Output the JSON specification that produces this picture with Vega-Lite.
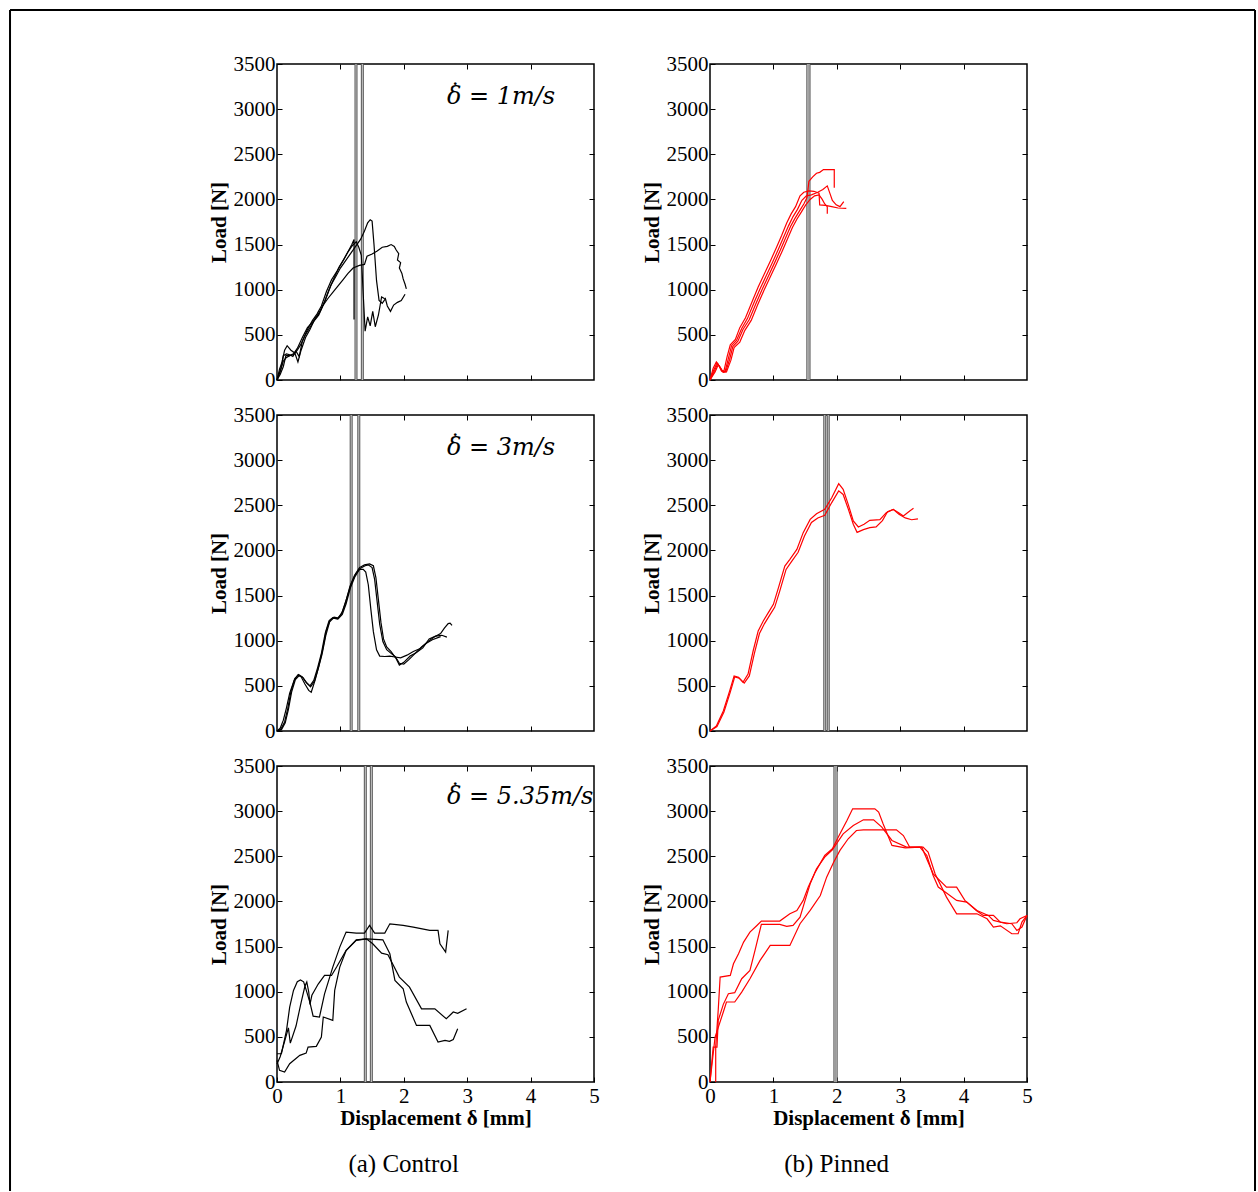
{
"$schema": "https://vega.github.io/schema/vega-lite/v6.json",
"padding": {"left": 8, "top": 8, "right": 2, "bottom": 0},
"background": "white",
"datasets": {
"curves": [
{"p":1,"c":"a","i":0,"x":0,"y":0},{"p":1,"c":"a","i":1,"x":0.04,"y":120},{"p":1,"c":"a","i":2,"x":0.08,"y":200},{"p":1,"c":"a","i":3,"x":0.12,"y":330},{"p":1,"c":"a","i":4,"x":0.16,"y":380},{"p":1,"c":"a","i":5,"x":0.22,"y":330},{"p":1,"c":"a","i":6,"x":0.28,"y":300},{"p":1,"c":"a","i":7,"x":0.33,"y":200},{"p":1,"c":"a","i":8,"x":0.38,"y":330},{"p":1,"c":"a","i":9,"x":0.45,"y":470},{"p":1,"c":"a","i":10,"x":0.52,"y":560},{"p":1,"c":"a","i":11,"x":0.6,"y":680},{"p":1,"c":"a","i":12,"x":0.68,"y":760},{"p":1,"c":"a","i":13,"x":0.76,"y":880},{"p":1,"c":"a","i":14,"x":0.85,"y":1050},{"p":1,"c":"a","i":15,"x":0.93,"y":1150},{"p":1,"c":"a","i":16,"x":1.0,"y":1240},{"p":1,"c":"a","i":17,"x":1.08,"y":1320},{"p":1,"c":"a","i":18,"x":1.16,"y":1400},{"p":1,"c":"a","i":19,"x":1.24,"y":1480},{"p":1,"c":"a","i":20,"x":1.32,"y":1560},{"p":1,"c":"a","i":21,"x":1.38,"y":1650},{"p":1,"c":"a","i":22,"x":1.43,"y":1740},{"p":1,"c":"a","i":23,"x":1.47,"y":1775},{"p":1,"c":"a","i":24,"x":1.5,"y":1760},{"p":1,"c":"a","i":25,"x":1.53,"y":1500},{"p":1,"c":"a","i":26,"x":1.57,"y":1100},{"p":1,"c":"a","i":27,"x":1.61,"y":880},{"p":1,"c":"a","i":28,"x":1.66,"y":850},{"p":1,"c":"a","i":29,"x":1.71,"y":900},{"p":1,"c":"a","i":30,"x":1.74,"y":820},{"p":1,"c":"a","i":31,"x":1.79,"y":760},{"p":1,"c":"a","i":32,"x":1.84,"y":830},{"p":1,"c":"a","i":33,"x":1.9,"y":860},{"p":1,"c":"a","i":34,"x":1.96,"y":880},{"p":1,"c":"a","i":35,"x":2.02,"y":950},
{"p":1,"c":"b","i":0,"x":0,"y":0},{"p":1,"c":"b","i":1,"x":0.03,"y":60},{"p":1,"c":"b","i":2,"x":0.07,"y":150},{"p":1,"c":"b","i":3,"x":0.1,"y":270},{"p":1,"c":"b","i":4,"x":0.15,"y":290},{"p":1,"c":"b","i":5,"x":0.2,"y":280},{"p":1,"c":"b","i":6,"x":0.25,"y":260},{"p":1,"c":"b","i":7,"x":0.3,"y":320},{"p":1,"c":"b","i":8,"x":0.35,"y":260},{"p":1,"c":"b","i":9,"x":0.4,"y":430},{"p":1,"c":"b","i":10,"x":0.48,"y":560},{"p":1,"c":"b","i":11,"x":0.56,"y":660},{"p":1,"c":"b","i":12,"x":0.63,"y":730},{"p":1,"c":"b","i":13,"x":0.7,"y":820},{"p":1,"c":"b","i":14,"x":0.78,"y":980},{"p":1,"c":"b","i":15,"x":0.86,"y":1110},{"p":1,"c":"b","i":16,"x":0.95,"y":1210},{"p":1,"c":"b","i":17,"x":1.04,"y":1320},{"p":1,"c":"b","i":18,"x":1.12,"y":1420},{"p":1,"c":"b","i":19,"x":1.19,"y":1490},{"p":1,"c":"b","i":20,"x":1.25,"y":1530},{"p":1,"c":"b","i":21,"x":1.29,"y":1470},{"p":1,"c":"b","i":22,"x":1.33,"y":1380},{"p":1,"c":"b","i":23,"x":1.36,"y":950},{"p":1,"c":"b","i":24,"x":1.39,"y":540},{"p":1,"c":"b","i":25,"x":1.43,"y":700},{"p":1,"c":"b","i":26,"x":1.47,"y":600},{"p":1,"c":"b","i":27,"x":1.51,"y":760},{"p":1,"c":"b","i":28,"x":1.55,"y":590},{"p":1,"c":"b","i":29,"x":1.6,"y":720},{"p":1,"c":"b","i":30,"x":1.65,"y":920},{"p":1,"c":"b","i":31,"x":1.7,"y":900},
{"p":1,"c":"c","i":0,"x":0,"y":0},{"p":1,"c":"c","i":1,"x":0.05,"y":90},{"p":1,"c":"c","i":2,"x":0.1,"y":210},{"p":1,"c":"c","i":3,"x":0.15,"y":250},{"p":1,"c":"c","i":4,"x":0.2,"y":270},{"p":1,"c":"c","i":5,"x":0.26,"y":280},{"p":1,"c":"c","i":6,"x":0.32,"y":330},{"p":1,"c":"c","i":7,"x":0.38,"y":400},{"p":1,"c":"c","i":8,"x":0.44,"y":490},{"p":1,"c":"c","i":9,"x":0.5,"y":560},{"p":1,"c":"c","i":10,"x":0.58,"y":650},{"p":1,"c":"c","i":11,"x":0.66,"y":720},{"p":1,"c":"c","i":12,"x":0.74,"y":850},{"p":1,"c":"c","i":13,"x":0.82,"y":1000},{"p":1,"c":"c","i":14,"x":0.9,"y":1130},{"p":1,"c":"c","i":15,"x":0.98,"y":1250},{"p":1,"c":"c","i":16,"x":1.05,"y":1330},{"p":1,"c":"c","i":17,"x":1.12,"y":1420},{"p":1,"c":"c","i":18,"x":1.18,"y":1500},{"p":1,"c":"c","i":19,"x":1.215,"y":1555},{"p":1,"c":"c","i":20,"x":1.215,"y":670},
{"p":1,"c":"d","i":0,"x":0,"y":0},{"p":1,"c":"d","i":1,"x":0.05,"y":60},{"p":1,"c":"d","i":2,"x":0.1,"y":150},{"p":1,"c":"d","i":3,"x":0.14,"y":270},{"p":1,"c":"d","i":4,"x":0.2,"y":270},{"p":1,"c":"d","i":5,"x":0.26,"y":290},{"p":1,"c":"d","i":6,"x":0.32,"y":350},{"p":1,"c":"d","i":7,"x":0.4,"y":470},{"p":1,"c":"d","i":8,"x":0.48,"y":580},{"p":1,"c":"d","i":9,"x":0.56,"y":640},{"p":1,"c":"d","i":10,"x":0.64,"y":710},{"p":1,"c":"d","i":11,"x":0.72,"y":820},{"p":1,"c":"d","i":12,"x":0.8,"y":900},{"p":1,"c":"d","i":13,"x":0.88,"y":970},{"p":1,"c":"d","i":14,"x":0.96,"y":1040},{"p":1,"c":"d","i":15,"x":1.04,"y":1110},{"p":1,"c":"d","i":16,"x":1.12,"y":1180},{"p":1,"c":"d","i":17,"x":1.2,"y":1240},{"p":1,"c":"d","i":18,"x":1.3,"y":1270},{"p":1,"c":"d","i":19,"x":1.38,"y":1280},{"p":1,"c":"d","i":20,"x":1.42,"y":1370},{"p":1,"c":"d","i":21,"x":1.5,"y":1395},{"p":1,"c":"d","i":22,"x":1.58,"y":1430},{"p":1,"c":"d","i":23,"x":1.66,"y":1470},{"p":1,"c":"d","i":24,"x":1.74,"y":1480},{"p":1,"c":"d","i":25,"x":1.8,"y":1500},{"p":1,"c":"d","i":26,"x":1.85,"y":1480},{"p":1,"c":"d","i":27,"x":1.88,"y":1440},{"p":1,"c":"d","i":28,"x":1.92,"y":1400},{"p":1,"c":"d","i":29,"x":1.9,"y":1330},{"p":1,"c":"d","i":30,"x":1.95,"y":1300},{"p":1,"c":"d","i":31,"x":1.93,"y":1240},{"p":1,"c":"d","i":32,"x":1.97,"y":1180},{"p":1,"c":"d","i":33,"x":1.99,"y":1120},{"p":1,"c":"d","i":34,"x":2.02,"y":1060},{"p":1,"c":"d","i":35,"x":2.04,"y":1010},

{"p":2,"c":"a","i":0,"x":0,"y":0},{"p":2,"c":"a","i":1,"x":0.05,"y":130},{"p":2,"c":"a","i":2,"x":0.1,"y":200},{"p":2,"c":"a","i":3,"x":0.14,"y":160},{"p":2,"c":"a","i":4,"x":0.18,"y":100},{"p":2,"c":"a","i":5,"x":0.22,"y":100},{"p":2,"c":"a","i":6,"x":0.27,"y":260},{"p":2,"c":"a","i":7,"x":0.32,"y":390},{"p":2,"c":"a","i":8,"x":0.4,"y":450},{"p":2,"c":"a","i":9,"x":0.47,"y":580},{"p":2,"c":"a","i":10,"x":0.56,"y":690},{"p":2,"c":"a","i":11,"x":0.66,"y":860},{"p":2,"c":"a","i":12,"x":0.76,"y":1030},{"p":2,"c":"a","i":13,"x":0.86,"y":1180},{"p":2,"c":"a","i":14,"x":0.96,"y":1330},{"p":2,"c":"a","i":15,"x":1.05,"y":1470},{"p":2,"c":"a","i":16,"x":1.13,"y":1600},{"p":2,"c":"a","i":17,"x":1.21,"y":1740},{"p":2,"c":"a","i":18,"x":1.28,"y":1840},{"p":2,"c":"a","i":19,"x":1.35,"y":1920},{"p":2,"c":"a","i":20,"x":1.42,"y":2040},{"p":2,"c":"a","i":21,"x":1.48,"y":2080},{"p":2,"c":"a","i":22,"x":1.56,"y":2095},{"p":2,"c":"a","i":23,"x":1.64,"y":2090},{"p":2,"c":"a","i":24,"x":1.72,"y":2070},{"p":2,"c":"a","i":25,"x":1.73,"y":1940},{"p":2,"c":"a","i":26,"x":1.82,"y":1935},{"p":2,"c":"a","i":27,"x":1.92,"y":1920},{"p":2,"c":"a","i":28,"x":2.02,"y":1905},{"p":2,"c":"a","i":29,"x":2.15,"y":1900},
{"p":2,"c":"b","i":0,"x":0,"y":0},{"p":2,"c":"b","i":1,"x":0.06,"y":110},{"p":2,"c":"b","i":2,"x":0.11,"y":190},{"p":2,"c":"b","i":3,"x":0.15,"y":150},{"p":2,"c":"b","i":4,"x":0.19,"y":95},{"p":2,"c":"b","i":5,"x":0.24,"y":100},{"p":2,"c":"b","i":6,"x":0.29,"y":240},{"p":2,"c":"b","i":7,"x":0.34,"y":380},{"p":2,"c":"b","i":8,"x":0.42,"y":440},{"p":2,"c":"b","i":9,"x":0.5,"y":570},{"p":2,"c":"b","i":10,"x":0.59,"y":680},{"p":2,"c":"b","i":11,"x":0.69,"y":850},{"p":2,"c":"b","i":12,"x":0.79,"y":1010},{"p":2,"c":"b","i":13,"x":0.89,"y":1160},{"p":2,"c":"b","i":14,"x":0.99,"y":1310},{"p":2,"c":"b","i":15,"x":1.08,"y":1450},{"p":2,"c":"b","i":16,"x":1.16,"y":1580},{"p":2,"c":"b","i":17,"x":1.24,"y":1710},{"p":2,"c":"b","i":18,"x":1.31,"y":1810},{"p":2,"c":"b","i":19,"x":1.38,"y":1890},{"p":2,"c":"b","i":20,"x":1.45,"y":1990},{"p":2,"c":"b","i":21,"x":1.52,"y":2040},{"p":2,"c":"b","i":22,"x":1.6,"y":2050},{"p":2,"c":"b","i":23,"x":1.7,"y":2080},{"p":2,"c":"b","i":24,"x":1.78,"y":2110},{"p":2,"c":"b","i":25,"x":1.85,"y":2150},{"p":2,"c":"b","i":26,"x":1.89,"y":2070},{"p":2,"c":"b","i":27,"x":1.93,"y":1990},{"p":2,"c":"b","i":28,"x":1.99,"y":1940},{"p":2,"c":"b","i":29,"x":2.05,"y":1920},{"p":2,"c":"b","i":30,"x":2.11,"y":1975},
{"p":2,"c":"c","i":0,"x":0,"y":0},{"p":2,"c":"c","i":1,"x":0.07,"y":100},{"p":2,"c":"c","i":2,"x":0.12,"y":180},{"p":2,"c":"c","i":3,"x":0.16,"y":140},{"p":2,"c":"c","i":4,"x":0.2,"y":90},{"p":2,"c":"c","i":5,"x":0.25,"y":95},{"p":2,"c":"c","i":6,"x":0.31,"y":230},{"p":2,"c":"c","i":7,"x":0.36,"y":370},{"p":2,"c":"c","i":8,"x":0.44,"y":430},{"p":2,"c":"c","i":9,"x":0.52,"y":560},{"p":2,"c":"c","i":10,"x":0.62,"y":670},{"p":2,"c":"c","i":11,"x":0.72,"y":840},{"p":2,"c":"c","i":12,"x":0.82,"y":1000},{"p":2,"c":"c","i":13,"x":0.92,"y":1150},{"p":2,"c":"c","i":14,"x":1.02,"y":1300},{"p":2,"c":"c","i":15,"x":1.11,"y":1440},{"p":2,"c":"c","i":16,"x":1.19,"y":1570},{"p":2,"c":"c","i":17,"x":1.27,"y":1700},{"p":2,"c":"c","i":18,"x":1.34,"y":1790},{"p":2,"c":"c","i":19,"x":1.41,"y":1870},{"p":2,"c":"c","i":20,"x":1.48,"y":1950},{"p":2,"c":"c","i":21,"x":1.53,"y":2020},{"p":2,"c":"c","i":22,"x":1.56,"y":2200},{"p":2,"c":"c","i":23,"x":1.62,"y":2250},{"p":2,"c":"c","i":24,"x":1.68,"y":2290},{"p":2,"c":"c","i":25,"x":1.73,"y":2300},{"p":2,"c":"c","i":26,"x":1.79,"y":2330},{"p":2,"c":"c","i":27,"x":1.96,"y":2330},{"p":2,"c":"c","i":28,"x":1.96,"y":2130},
{"p":2,"c":"d","i":0,"x":0,"y":0},{"p":2,"c":"d","i":1,"x":0.08,"y":90},{"p":2,"c":"d","i":2,"x":0.13,"y":170},{"p":2,"c":"d","i":3,"x":0.17,"y":130},{"p":2,"c":"d","i":4,"x":0.21,"y":85},{"p":2,"c":"d","i":5,"x":0.26,"y":90},{"p":2,"c":"d","i":6,"x":0.33,"y":220},{"p":2,"c":"d","i":7,"x":0.38,"y":360},{"p":2,"c":"d","i":8,"x":0.47,"y":420},{"p":2,"c":"d","i":9,"x":0.55,"y":550},{"p":2,"c":"d","i":10,"x":0.65,"y":660},{"p":2,"c":"d","i":11,"x":0.75,"y":830},{"p":2,"c":"d","i":12,"x":0.85,"y":990},{"p":2,"c":"d","i":13,"x":0.95,"y":1140},{"p":2,"c":"d","i":14,"x":1.05,"y":1290},{"p":2,"c":"d","i":15,"x":1.14,"y":1430},{"p":2,"c":"d","i":16,"x":1.22,"y":1560},{"p":2,"c":"d","i":17,"x":1.3,"y":1690},{"p":2,"c":"d","i":18,"x":1.37,"y":1780},{"p":2,"c":"d","i":19,"x":1.44,"y":1860},{"p":2,"c":"d","i":20,"x":1.51,"y":1940},{"p":2,"c":"d","i":21,"x":1.58,"y":2000},{"p":2,"c":"d","i":22,"x":1.65,"y":2040},{"p":2,"c":"d","i":23,"x":1.72,"y":2050},{"p":2,"c":"d","i":24,"x":1.77,"y":2000},{"p":2,"c":"d","i":25,"x":1.81,"y":1950},{"p":2,"c":"d","i":26,"x":1.85,"y":1920},{"p":2,"c":"d","i":27,"x":1.85,"y":1840},

{"p":3,"c":"a","i":0,"x":0,"y":0},{"p":3,"c":"a","i":1,"x":0.05,"y":30},{"p":3,"c":"a","i":2,"x":0.1,"y":120},{"p":3,"c":"a","i":3,"x":0.15,"y":260},{"p":3,"c":"a","i":4,"x":0.2,"y":420},{"p":3,"c":"a","i":5,"x":0.27,"y":560},{"p":3,"c":"a","i":6,"x":0.33,"y":620},{"p":3,"c":"a","i":7,"x":0.38,"y":600},{"p":3,"c":"a","i":8,"x":0.44,"y":520},{"p":3,"c":"a","i":9,"x":0.5,"y":450},{"p":3,"c":"a","i":10,"x":0.54,"y":430},{"p":3,"c":"a","i":11,"x":0.6,"y":560},{"p":3,"c":"a","i":12,"x":0.66,"y":720},{"p":3,"c":"a","i":13,"x":0.72,"y":900},{"p":3,"c":"a","i":14,"x":0.78,"y":1120},{"p":3,"c":"a","i":15,"x":0.84,"y":1230},{"p":3,"c":"a","i":16,"x":0.9,"y":1260},{"p":3,"c":"a","i":17,"x":0.97,"y":1250},{"p":3,"c":"a","i":18,"x":1.03,"y":1320},{"p":3,"c":"a","i":19,"x":1.1,"y":1470},{"p":3,"c":"a","i":20,"x":1.17,"y":1630},{"p":3,"c":"a","i":21,"x":1.24,"y":1740},{"p":3,"c":"a","i":22,"x":1.3,"y":1790},{"p":3,"c":"a","i":23,"x":1.36,"y":1790},{"p":3,"c":"a","i":24,"x":1.4,"y":1760},{"p":3,"c":"a","i":25,"x":1.44,"y":1620},{"p":3,"c":"a","i":26,"x":1.48,"y":1350},{"p":3,"c":"a","i":27,"x":1.52,"y":1100},{"p":3,"c":"a","i":28,"x":1.57,"y":900},{"p":3,"c":"a","i":29,"x":1.62,"y":830},{"p":3,"c":"a","i":30,"x":1.7,"y":825},{"p":3,"c":"a","i":31,"x":1.78,"y":830},{"p":3,"c":"a","i":32,"x":1.86,"y":820},{"p":3,"c":"a","i":33,"x":1.95,"y":810},{"p":3,"c":"a","i":34,"x":2.05,"y":840},{"p":3,"c":"a","i":35,"x":2.15,"y":880},{"p":3,"c":"a","i":36,"x":2.25,"y":910},{"p":3,"c":"a","i":37,"x":2.35,"y":970},{"p":3,"c":"a","i":38,"x":2.45,"y":1010},{"p":3,"c":"a","i":39,"x":2.58,"y":1045},
{"p":3,"c":"b","i":0,"x":0,"y":0},{"p":3,"c":"b","i":1,"x":0.06,"y":20},{"p":3,"c":"b","i":2,"x":0.12,"y":100},{"p":3,"c":"b","i":3,"x":0.17,"y":250},{"p":3,"c":"b","i":4,"x":0.22,"y":440},{"p":3,"c":"b","i":5,"x":0.28,"y":580},{"p":3,"c":"b","i":6,"x":0.34,"y":625},{"p":3,"c":"b","i":7,"x":0.4,"y":600},{"p":3,"c":"b","i":8,"x":0.46,"y":540},{"p":3,"c":"b","i":9,"x":0.52,"y":500},{"p":3,"c":"b","i":10,"x":0.58,"y":560},{"p":3,"c":"b","i":11,"x":0.64,"y":700},{"p":3,"c":"b","i":12,"x":0.7,"y":860},{"p":3,"c":"b","i":13,"x":0.76,"y":1080},{"p":3,"c":"b","i":14,"x":0.82,"y":1220},{"p":3,"c":"b","i":15,"x":0.88,"y":1255},{"p":3,"c":"b","i":16,"x":0.95,"y":1245},{"p":3,"c":"b","i":17,"x":1.02,"y":1300},{"p":3,"c":"b","i":18,"x":1.08,"y":1420},{"p":3,"c":"b","i":19,"x":1.15,"y":1600},{"p":3,"c":"b","i":20,"x":1.22,"y":1720},{"p":3,"c":"b","i":21,"x":1.3,"y":1810},{"p":3,"c":"b","i":22,"x":1.38,"y":1840},{"p":3,"c":"b","i":23,"x":1.46,"y":1850},{"p":3,"c":"b","i":24,"x":1.52,"y":1830},{"p":3,"c":"b","i":25,"x":1.56,"y":1700},{"p":3,"c":"b","i":26,"x":1.6,"y":1450},{"p":3,"c":"b","i":27,"x":1.64,"y":1200},{"p":3,"c":"b","i":28,"x":1.68,"y":1020},{"p":3,"c":"b","i":29,"x":1.73,"y":930},{"p":3,"c":"b","i":30,"x":1.8,"y":880},{"p":3,"c":"b","i":31,"x":1.88,"y":800},{"p":3,"c":"b","i":32,"x":1.93,"y":730},{"p":3,"c":"b","i":33,"x":2.0,"y":760},{"p":3,"c":"b","i":34,"x":2.1,"y":830},{"p":3,"c":"b","i":35,"x":2.2,"y":870},{"p":3,"c":"b","i":36,"x":2.3,"y":920},{"p":3,"c":"b","i":37,"x":2.4,"y":1020},{"p":3,"c":"b","i":38,"x":2.5,"y":1050},{"p":3,"c":"b","i":39,"x":2.6,"y":1060},{"p":3,"c":"b","i":40,"x":2.68,"y":1040},
{"p":3,"c":"c","i":0,"x":0,"y":0},{"p":3,"c":"c","i":1,"x":0.07,"y":15},{"p":3,"c":"c","i":2,"x":0.13,"y":90},{"p":3,"c":"c","i":3,"x":0.18,"y":240},{"p":3,"c":"c","i":4,"x":0.23,"y":430},{"p":3,"c":"c","i":5,"x":0.29,"y":570},{"p":3,"c":"c","i":6,"x":0.35,"y":615},{"p":3,"c":"c","i":7,"x":0.41,"y":590},{"p":3,"c":"c","i":8,"x":0.47,"y":530},{"p":3,"c":"c","i":9,"x":0.53,"y":490},{"p":3,"c":"c","i":10,"x":0.59,"y":550},{"p":3,"c":"c","i":11,"x":0.65,"y":690},{"p":3,"c":"c","i":12,"x":0.71,"y":850},{"p":3,"c":"c","i":13,"x":0.77,"y":1060},{"p":3,"c":"c","i":14,"x":0.83,"y":1210},{"p":3,"c":"c","i":15,"x":0.89,"y":1250},{"p":3,"c":"c","i":16,"x":0.96,"y":1240},{"p":3,"c":"c","i":17,"x":1.03,"y":1290},{"p":3,"c":"c","i":18,"x":1.09,"y":1410},{"p":3,"c":"c","i":19,"x":1.16,"y":1590},{"p":3,"c":"c","i":20,"x":1.23,"y":1710},{"p":3,"c":"c","i":21,"x":1.31,"y":1800},{"p":3,"c":"c","i":22,"x":1.39,"y":1830},{"p":3,"c":"c","i":23,"x":1.44,"y":1840},{"p":3,"c":"c","i":24,"x":1.5,"y":1810},{"p":3,"c":"c","i":25,"x":1.54,"y":1680},{"p":3,"c":"c","i":26,"x":1.58,"y":1430},{"p":3,"c":"c","i":27,"x":1.62,"y":1180},{"p":3,"c":"c","i":28,"x":1.67,"y":990},{"p":3,"c":"c","i":29,"x":1.73,"y":900},{"p":3,"c":"c","i":30,"x":1.8,"y":860},{"p":3,"c":"c","i":31,"x":1.87,"y":820},{"p":3,"c":"c","i":32,"x":1.93,"y":750},{"p":3,"c":"c","i":33,"x":2.0,"y":740},{"p":3,"c":"c","i":34,"x":2.08,"y":790},{"p":3,"c":"c","i":35,"x":2.18,"y":860},{"p":3,"c":"c","i":36,"x":2.28,"y":930},{"p":3,"c":"c","i":37,"x":2.38,"y":990},{"p":3,"c":"c","i":38,"x":2.48,"y":1040},{"p":3,"c":"c","i":39,"x":2.58,"y":1080},{"p":3,"c":"c","i":40,"x":2.64,"y":1140},{"p":3,"c":"c","i":41,"x":2.7,"y":1190},{"p":3,"c":"c","i":42,"x":2.73,"y":1195},{"p":3,"c":"c","i":43,"x":2.76,"y":1170},

{"p":4,"c":"a","i":0,"x":0,"y":0},{"p":4,"c":"a","i":1,"x":0.1,"y":55},{"p":4,"c":"a","i":2,"x":0.21,"y":222},{"p":4,"c":"a","i":3,"x":0.31,"y":443},{"p":4,"c":"a","i":4,"x":0.38,"y":610},{"p":4,"c":"a","i":5,"x":0.45,"y":595},{"p":4,"c":"a","i":6,"x":0.52,"y":540},{"p":4,"c":"a","i":7,"x":0.6,"y":630},{"p":4,"c":"a","i":8,"x":0.68,"y":886},{"p":4,"c":"a","i":9,"x":0.76,"y":1108},{"p":4,"c":"a","i":10,"x":0.84,"y":1218},{"p":4,"c":"a","i":11,"x":0.92,"y":1311},{"p":4,"c":"a","i":12,"x":1.0,"y":1403},{"p":4,"c":"a","i":13,"x":1.08,"y":1588},{"p":4,"c":"a","i":14,"x":1.18,"y":1827},{"p":4,"c":"a","i":15,"x":1.26,"y":1901},{"p":4,"c":"a","i":16,"x":1.37,"y":2012},{"p":4,"c":"a","i":17,"x":1.47,"y":2197},{"p":4,"c":"a","i":18,"x":1.58,"y":2344},{"p":4,"c":"a","i":19,"x":1.68,"y":2407},{"p":4,"c":"a","i":20,"x":1.81,"y":2455},{"p":4,"c":"a","i":21,"x":1.92,"y":2584},{"p":4,"c":"a","i":22,"x":2.03,"y":2740},{"p":4,"c":"a","i":23,"x":2.1,"y":2677},{"p":4,"c":"a","i":24,"x":2.18,"y":2510},{"p":4,"c":"a","i":25,"x":2.26,"y":2326},{"p":4,"c":"a","i":26,"x":2.34,"y":2260},{"p":4,"c":"a","i":27,"x":2.43,"y":2290},{"p":4,"c":"a","i":28,"x":2.52,"y":2333},{"p":4,"c":"a","i":29,"x":2.68,"y":2341},{"p":4,"c":"a","i":30,"x":2.78,"y":2418},{"p":4,"c":"a","i":31,"x":2.89,"y":2455},{"p":4,"c":"a","i":32,"x":2.97,"y":2420},{"p":4,"c":"a","i":33,"x":3.05,"y":2381},{"p":4,"c":"a","i":34,"x":3.15,"y":2437},{"p":4,"c":"a","i":35,"x":3.21,"y":2466},
{"p":4,"c":"b","i":0,"x":0,"y":0},{"p":4,"c":"b","i":1,"x":0.11,"y":50},{"p":4,"c":"b","i":2,"x":0.22,"y":210},{"p":4,"c":"b","i":3,"x":0.32,"y":430},{"p":4,"c":"b","i":4,"x":0.39,"y":600},{"p":4,"c":"b","i":5,"x":0.46,"y":585},{"p":4,"c":"b","i":6,"x":0.54,"y":530},{"p":4,"c":"b","i":7,"x":0.62,"y":610},{"p":4,"c":"b","i":8,"x":0.7,"y":860},{"p":4,"c":"b","i":9,"x":0.78,"y":1080},{"p":4,"c":"b","i":10,"x":0.86,"y":1190},{"p":4,"c":"b","i":11,"x":0.94,"y":1280},{"p":4,"c":"b","i":12,"x":1.02,"y":1370},{"p":4,"c":"b","i":13,"x":1.1,"y":1550},{"p":4,"c":"b","i":14,"x":1.2,"y":1790},{"p":4,"c":"b","i":15,"x":1.28,"y":1870},{"p":4,"c":"b","i":16,"x":1.39,"y":1980},{"p":4,"c":"b","i":17,"x":1.49,"y":2160},{"p":4,"c":"b","i":18,"x":1.6,"y":2310},{"p":4,"c":"b","i":19,"x":1.7,"y":2360},{"p":4,"c":"b","i":20,"x":1.81,"y":2390},{"p":4,"c":"b","i":21,"x":1.92,"y":2530},{"p":4,"c":"b","i":22,"x":2.03,"y":2660},{"p":4,"c":"b","i":23,"x":2.1,"y":2620},{"p":4,"c":"b","i":24,"x":2.18,"y":2460},{"p":4,"c":"b","i":25,"x":2.26,"y":2290},{"p":4,"c":"b","i":26,"x":2.32,"y":2200},{"p":4,"c":"b","i":27,"x":2.42,"y":2230},{"p":4,"c":"b","i":28,"x":2.52,"y":2252},{"p":4,"c":"b","i":29,"x":2.62,"y":2260},{"p":4,"c":"b","i":30,"x":2.72,"y":2330},{"p":4,"c":"b","i":31,"x":2.8,"y":2430},{"p":4,"c":"b","i":32,"x":2.89,"y":2455},{"p":4,"c":"b","i":33,"x":2.98,"y":2400},{"p":4,"c":"b","i":34,"x":3.08,"y":2360},{"p":4,"c":"b","i":35,"x":3.18,"y":2340},{"p":4,"c":"b","i":36,"x":3.28,"y":2350},

{"p":5,"c":"a","i":0,"x":0,"y":313},{"p":5,"c":"a","i":1,"x":0.07,"y":313},{"p":5,"c":"a","i":2,"x":0.15,"y":572},{"p":5,"c":"a","i":3,"x":0.2,"y":830},{"p":5,"c":"a","i":4,"x":0.26,"y":1014},{"p":5,"c":"a","i":5,"x":0.32,"y":1110},{"p":5,"c":"a","i":6,"x":0.37,"y":1130},{"p":5,"c":"a","i":7,"x":0.42,"y":1110},{"p":5,"c":"a","i":8,"x":0.46,"y":1020},{"p":5,"c":"a","i":9,"x":0.52,"y":880},{"p":5,"c":"a","i":10,"x":0.57,"y":730},{"p":5,"c":"a","i":11,"x":0.67,"y":720},{"p":5,"c":"a","i":12,"x":0.75,"y":977},{"p":5,"c":"a","i":13,"x":0.88,"y":1273},{"p":5,"c":"a","i":14,"x":0.99,"y":1494},{"p":5,"c":"a","i":15,"x":1.09,"y":1660},{"p":5,"c":"a","i":16,"x":1.25,"y":1650},{"p":5,"c":"a","i":17,"x":1.38,"y":1650},{"p":5,"c":"a","i":18,"x":1.46,"y":1734},{"p":5,"c":"a","i":19,"x":1.54,"y":1650},{"p":5,"c":"a","i":20,"x":1.7,"y":1650},{"p":5,"c":"a","i":21,"x":1.78,"y":1752},{"p":5,"c":"a","i":22,"x":1.99,"y":1734},{"p":5,"c":"a","i":23,"x":2.15,"y":1716},{"p":5,"c":"a","i":24,"x":2.41,"y":1679},{"p":5,"c":"a","i":25,"x":2.54,"y":1679},{"p":5,"c":"a","i":26,"x":2.57,"y":1531},{"p":5,"c":"a","i":27,"x":2.66,"y":1439},{"p":5,"c":"a","i":28,"x":2.7,"y":1679},
{"p":5,"c":"b","i":0,"x":0,"y":240},{"p":5,"c":"b","i":1,"x":0.04,"y":129},{"p":5,"c":"b","i":2,"x":0.12,"y":111},{"p":5,"c":"b","i":3,"x":0.2,"y":203},{"p":5,"c":"b","i":4,"x":0.36,"y":295},{"p":5,"c":"b","i":5,"x":0.46,"y":320},{"p":5,"c":"b","i":6,"x":0.49,"y":387},{"p":5,"c":"b","i":7,"x":0.62,"y":395},{"p":5,"c":"b","i":8,"x":0.7,"y":498},{"p":5,"c":"b","i":9,"x":0.73,"y":720},{"p":5,"c":"b","i":10,"x":0.88,"y":682},{"p":5,"c":"b","i":11,"x":0.91,"y":1014},{"p":5,"c":"b","i":12,"x":0.99,"y":1273},{"p":5,"c":"b","i":13,"x":1.09,"y":1457},{"p":5,"c":"b","i":14,"x":1.25,"y":1575},{"p":5,"c":"b","i":15,"x":1.41,"y":1586},{"p":5,"c":"b","i":16,"x":1.67,"y":1575},{"p":5,"c":"b","i":17,"x":1.78,"y":1420},{"p":5,"c":"b","i":18,"x":1.86,"y":1125},{"p":5,"c":"b","i":19,"x":1.99,"y":1033},{"p":5,"c":"b","i":20,"x":2.04,"y":885},{"p":5,"c":"b","i":21,"x":2.2,"y":627},{"p":5,"c":"b","i":22,"x":2.41,"y":627},{"p":5,"c":"b","i":23,"x":2.54,"y":443},{"p":5,"c":"b","i":24,"x":2.65,"y":461},{"p":5,"c":"b","i":25,"x":2.72,"y":450},{"p":5,"c":"b","i":26,"x":2.78,"y":470},{"p":5,"c":"b","i":27,"x":2.85,"y":590},
{"p":5,"c":"c","i":0,"x":0,"y":200},{"p":5,"c":"c","i":1,"x":0.05,"y":280},{"p":5,"c":"c","i":2,"x":0.12,"y":450},{"p":5,"c":"c","i":3,"x":0.18,"y":600},{"p":5,"c":"c","i":4,"x":0.21,"y":430},{"p":5,"c":"c","i":5,"x":0.3,"y":620},{"p":5,"c":"c","i":6,"x":0.38,"y":880},{"p":5,"c":"c","i":7,"x":0.44,"y":1060},{"p":5,"c":"c","i":8,"x":0.47,"y":1107},{"p":5,"c":"c","i":9,"x":0.5,"y":1000},{"p":5,"c":"c","i":10,"x":0.52,"y":860},{"p":5,"c":"c","i":11,"x":0.55,"y":960},{"p":5,"c":"c","i":12,"x":0.65,"y":1085},{"p":5,"c":"c","i":13,"x":0.75,"y":1180},{"p":5,"c":"c","i":14,"x":0.86,"y":1180},{"p":5,"c":"c","i":15,"x":0.94,"y":1273},{"p":5,"c":"c","i":16,"x":1.09,"y":1457},{"p":5,"c":"c","i":17,"x":1.25,"y":1568},{"p":5,"c":"c","i":18,"x":1.41,"y":1586},{"p":5,"c":"c","i":19,"x":1.51,"y":1531},{"p":5,"c":"c","i":20,"x":1.65,"y":1427},{"p":5,"c":"c","i":21,"x":1.75,"y":1410},{"p":5,"c":"c","i":22,"x":1.93,"y":1162},{"p":5,"c":"c","i":23,"x":2.09,"y":1051},{"p":5,"c":"c","i":24,"x":2.28,"y":811},{"p":5,"c":"c","i":25,"x":2.49,"y":811},{"p":5,"c":"c","i":26,"x":2.67,"y":700},{"p":5,"c":"c","i":27,"x":2.78,"y":775},{"p":5,"c":"c","i":28,"x":2.85,"y":760},{"p":5,"c":"c","i":29,"x":2.99,"y":811},

{"p":6,"c":"a","i":0,"x":0.09,"y":0},{"p":6,"c":"a","i":1,"x":0.09,"y":390},{"p":6,"c":"a","i":2,"x":0.13,"y":800},{"p":6,"c":"a","i":3,"x":0.16,"y":1162},{"p":6,"c":"a","i":4,"x":0.32,"y":1180},{"p":6,"c":"a","i":5,"x":0.37,"y":1310},{"p":6,"c":"a","i":6,"x":0.45,"y":1421},{"p":6,"c":"a","i":7,"x":0.53,"y":1550},{"p":6,"c":"a","i":8,"x":0.63,"y":1660},{"p":6,"c":"a","i":9,"x":0.74,"y":1734},{"p":6,"c":"a","i":10,"x":0.81,"y":1782},{"p":6,"c":"a","i":11,"x":1.1,"y":1782},{"p":6,"c":"a","i":12,"x":1.26,"y":1863},{"p":6,"c":"a","i":13,"x":1.37,"y":1900},{"p":6,"c":"a","i":14,"x":1.47,"y":2011},{"p":6,"c":"a","i":15,"x":1.55,"y":2159},{"p":6,"c":"a","i":16,"x":1.66,"y":2325},{"p":6,"c":"a","i":17,"x":1.81,"y":2509},{"p":6,"c":"a","i":18,"x":1.93,"y":2583},{"p":6,"c":"a","i":19,"x":2.05,"y":2749},{"p":6,"c":"a","i":20,"x":2.16,"y":2897},{"p":6,"c":"a","i":21,"x":2.25,"y":3026},{"p":6,"c":"a","i":22,"x":2.6,"y":3026},{"p":6,"c":"a","i":23,"x":2.66,"y":2990},{"p":6,"c":"a","i":24,"x":2.73,"y":2860},{"p":6,"c":"a","i":25,"x":2.87,"y":2620},{"p":6,"c":"a","i":26,"x":3.08,"y":2594},{"p":6,"c":"a","i":27,"x":3.31,"y":2601},{"p":6,"c":"a","i":28,"x":3.42,"y":2509},{"p":6,"c":"a","i":29,"x":3.52,"y":2288},{"p":6,"c":"a","i":30,"x":3.6,"y":2159},{"p":6,"c":"a","i":31,"x":3.72,"y":2100},{"p":6,"c":"a","i":32,"x":3.89,"y":2011},{"p":6,"c":"a","i":33,"x":4.05,"y":1993},{"p":6,"c":"a","i":34,"x":4.21,"y":1900},{"p":6,"c":"a","i":35,"x":4.39,"y":1845},{"p":6,"c":"a","i":36,"x":4.47,"y":1790},{"p":6,"c":"a","i":37,"x":4.68,"y":1753},{"p":6,"c":"a","i":38,"x":4.84,"y":1764},{"p":6,"c":"a","i":39,"x":4.89,"y":1808},{"p":6,"c":"a","i":40,"x":5.0,"y":1845},
{"p":6,"c":"b","i":0,"x":0,"y":0},{"p":6,"c":"b","i":1,"x":0.05,"y":387},{"p":6,"c":"b","i":2,"x":0.11,"y":387},{"p":6,"c":"b","i":3,"x":0.13,"y":683},{"p":6,"c":"b","i":4,"x":0.21,"y":860},{"p":6,"c":"b","i":5,"x":0.29,"y":978},{"p":6,"c":"b","i":6,"x":0.39,"y":989},{"p":6,"c":"b","i":7,"x":0.5,"y":1144},{"p":6,"c":"b","i":8,"x":0.63,"y":1236},{"p":6,"c":"b","i":9,"x":0.71,"y":1458},{"p":6,"c":"b","i":10,"x":0.81,"y":1745},{"p":6,"c":"b","i":11,"x":1.1,"y":1745},{"p":6,"c":"b","i":12,"x":1.21,"y":1723},{"p":6,"c":"b","i":13,"x":1.31,"y":1734},{"p":6,"c":"b","i":14,"x":1.42,"y":1826},{"p":6,"c":"b","i":15,"x":1.5,"y":2011},{"p":6,"c":"b","i":16,"x":1.58,"y":2196},{"p":6,"c":"b","i":17,"x":1.68,"y":2362},{"p":6,"c":"b","i":18,"x":1.81,"y":2491},{"p":6,"c":"b","i":19,"x":1.93,"y":2572},{"p":6,"c":"b","i":20,"x":2.1,"y":2749},{"p":6,"c":"b","i":21,"x":2.26,"y":2841},{"p":6,"c":"b","i":22,"x":2.42,"y":2904},{"p":6,"c":"b","i":23,"x":2.58,"y":2904},{"p":6,"c":"b","i":24,"x":2.71,"y":2823},{"p":6,"c":"b","i":25,"x":2.87,"y":2675},{"p":6,"c":"b","i":26,"x":3.1,"y":2601},{"p":6,"c":"b","i":27,"x":3.34,"y":2601},{"p":6,"c":"b","i":28,"x":3.52,"y":2306},{"p":6,"c":"b","i":29,"x":3.73,"y":2159},{"p":6,"c":"b","i":30,"x":3.89,"y":2159},{"p":6,"c":"b","i":31,"x":4.02,"y":2011},{"p":6,"c":"b","i":32,"x":4.2,"y":1900},{"p":6,"c":"b","i":33,"x":4.31,"y":1845},{"p":6,"c":"b","i":34,"x":4.47,"y":1845},{"p":6,"c":"b","i":35,"x":4.58,"y":1771},{"p":6,"c":"b","i":36,"x":4.76,"y":1753},{"p":6,"c":"b","i":37,"x":4.84,"y":1679},{"p":6,"c":"b","i":38,"x":4.92,"y":1716},{"p":6,"c":"b","i":39,"x":5.0,"y":1845},
{"p":6,"c":"c","i":0,"x":0,"y":0},{"p":6,"c":"c","i":1,"x":0.08,"y":498},{"p":6,"c":"c","i":2,"x":0.21,"y":775},{"p":6,"c":"c","i":3,"x":0.26,"y":886},{"p":6,"c":"c","i":4,"x":0.39,"y":886},{"p":6,"c":"c","i":5,"x":0.5,"y":996},{"p":6,"c":"c","i":6,"x":0.63,"y":1144},{"p":6,"c":"c","i":7,"x":0.79,"y":1347},{"p":6,"c":"c","i":8,"x":0.95,"y":1513},{"p":6,"c":"c","i":9,"x":1.26,"y":1513},{"p":6,"c":"c","i":10,"x":1.42,"y":1753},{"p":6,"c":"c","i":11,"x":1.58,"y":1900},{"p":6,"c":"c","i":12,"x":1.74,"y":2066},{"p":6,"c":"c","i":13,"x":1.84,"y":2269},{"p":6,"c":"c","i":14,"x":1.95,"y":2435},{"p":6,"c":"c","i":15,"x":2.05,"y":2565},{"p":6,"c":"c","i":16,"x":2.18,"y":2694},{"p":6,"c":"c","i":17,"x":2.31,"y":2786},{"p":6,"c":"c","i":18,"x":2.42,"y":2793},{"p":6,"c":"c","i":19,"x":2.94,"y":2793},{"p":6,"c":"c","i":20,"x":3.05,"y":2730},{"p":6,"c":"c","i":21,"x":3.15,"y":2601},{"p":6,"c":"c","i":22,"x":3.36,"y":2601},{"p":6,"c":"c","i":23,"x":3.44,"y":2546},{"p":6,"c":"c","i":24,"x":3.55,"y":2306},{"p":6,"c":"c","i":25,"x":3.73,"y":2048},{"p":6,"c":"c","i":26,"x":3.89,"y":1863},{"p":6,"c":"c","i":27,"x":4.21,"y":1863},{"p":6,"c":"c","i":28,"x":4.37,"y":1808},{"p":6,"c":"c","i":29,"x":4.47,"y":1716},{"p":6,"c":"c","i":30,"x":4.58,"y":1730},{"p":6,"c":"c","i":31,"x":4.76,"y":1642},{"p":6,"c":"c","i":32,"x":4.86,"y":1642},{"p":6,"c":"c","i":33,"x":4.92,"y":1771},{"p":6,"c":"c","i":34,"x":5.0,"y":1845}
],
"markers": [
{"p":1,"x":1.246},{"p":1,"x":1.346},{"p":2,"x":1.543},{"p":2,"x":1.562},{"p":3,"x":1.17},{"p":3,"x":1.29},{"p":4,"x":1.81},{"p":4,"x":1.865},{"p":5,"x":1.393},{"p":5,"x":1.488},{"p":6,"x":1.97},{"p":6,"x":1.99}
],
"notes": [
{"p":1,"t":"\u03b4 = 1m/s"},{"p":3,"t":"\u03b4 = 3m/s"},{"p":5,"t":"\u03b4 = 5.35m/s"}
],
"dots": [
{"p":1,"t":"\u02d9"},{"p":3,"t":"\u02d9"},{"p":5,"t":"\u02d9"}
]
},
"columns": 2,
"spacing": {"row": 35, "column": 116},
"bounds": "flush",
"align": "all",
"concat": [
{
"width": 317, "height": 316,
"layer": [
{"data": {"name": "markers"}, "transform": [{"filter": "datum.p == 1"}], "mark": {"type": "rule", "color": "#555555", "strokeWidth": 3},
 "encoding": {"x": {"field": "x", "type": "quantitative", "scale": {"domain": [0, 5], "nice": false}, "axis": {"orient": "top", "values": [1, 2, 3, 4], "labels": false, "title": null}},
  "y": {"datum": 0, "type": "quantitative", "scale": {"domain": [0, 3500], "nice": false}, "axis": {"orient": "right", "values": [500, 1000, 1500, 2000, 2500, 3000], "labels": false, "title": null}}, "y2": {"datum": 3500}}},
{"data": {"name": "markers"}, "transform": [{"filter": "datum.p == 1"}], "mark": {"type": "rule", "color": "#cccccc", "strokeWidth": 1}, "encoding": {"x": {"field": "x", "type": "quantitative", "axis": null}}},
{"data": {"name": "curves"}, "transform": [{"filter": "datum.p == 1"}], "mark": {"type": "line", "color": "black", "strokeWidth": 1.2},
 "encoding": {"x": {"field": "x", "type": "quantitative", "axis": {"orient": "bottom", "values": [1, 2, 3, 4], "labels": false, "title": null}},
  "y": {"field": "y", "type": "quantitative", "axis": {"orient": "left", "values": [0, 500, 1000, 1500, 2000, 2500, 3000, 3500], "title": "Load [N]"}},
  "detail": {"field": "c"}, "order": {"field": "i"}}},
{"data": {"name": "notes"}, "transform": [{"filter": "datum.p == 1"}], "mark": {"type": "text", "align": "left", "baseline": "middle", "fontSize": 24, "font": "DejaVu Serif", "fontStyle": "italic"},
 "encoding": {"text": {"field": "t"}, "x": {"datum": 2.68, "type": "quantitative", "axis": null}, "y": {"datum": 3140, "type": "quantitative", "axis": null}}},
{"data": {"name": "dots"}, "transform": [{"filter": "datum.p == 1"}], "mark": {"type": "text", "align": "center", "baseline": "middle", "fontSize": 24, "font": "DejaVu Serif"},
 "encoding": {"text": {"field": "t"}, "x": {"datum": 2.81, "type": "quantitative", "axis": null}, "y": {"datum": 3170, "type": "quantitative", "axis": null}}},
{"data": {"values": [{}]}, "mark": {"type": "rule", "color": "black", "strokeWidth": 2},
 "encoding": {"x": {"datum": -4.211, "type": "quantitative", "axis": null}, "y": {"datum": 4098, "type": "quantitative", "axis": null}, "y2": {"datum": -8982}}},
{"data": {"values": [{}]}, "mark": {"type": "rule", "color": "black", "strokeWidth": 2},
 "encoding": {"x": {"datum": 15.426, "type": "quantitative", "axis": null}, "y": {"datum": 4098, "type": "quantitative", "axis": null}, "y2": {"datum": -8982}}},
{"data": {"values": [{}]}, "mark": {"type": "rule", "color": "black", "strokeWidth": 2},
 "encoding": {"x": {"datum": -4.211, "type": "quantitative", "axis": null}, "x2": {"datum": 15.426}, "y": {"datum": 4098, "type": "quantitative", "axis": null}}}
],
"resolve": {"axis": {"x": "independent", "y": "independent"}}
},
{
"width": 317, "height": 316,
"layer": [
{"data": {"name": "markers"}, "transform": [{"filter": "datum.p == 2"}], "mark": {"type": "rule", "color": "#555555", "strokeWidth": 3},
 "encoding": {"x": {"field": "x", "type": "quantitative", "scale": {"domain": [0, 5], "nice": false}, "axis": {"orient": "top", "values": [1, 2, 3, 4], "labels": false, "title": null}},
  "y": {"datum": 0, "type": "quantitative", "scale": {"domain": [0, 3500], "nice": false}, "axis": {"orient": "right", "values": [500, 1000, 1500, 2000, 2500, 3000], "labels": false, "title": null}}, "y2": {"datum": 3500}}},
{"data": {"name": "markers"}, "transform": [{"filter": "datum.p == 2"}], "mark": {"type": "rule", "color": "#cccccc", "strokeWidth": 1}, "encoding": {"x": {"field": "x", "type": "quantitative", "axis": null}}},
{"data": {"name": "curves"}, "transform": [{"filter": "datum.p == 2"}], "mark": {"type": "line", "color": "#ff0000", "strokeWidth": 1.2},
 "encoding": {"x": {"field": "x", "type": "quantitative", "axis": {"orient": "bottom", "values": [1, 2, 3, 4], "labels": false, "title": null}},
  "y": {"field": "y", "type": "quantitative", "axis": {"orient": "left", "values": [0, 500, 1000, 1500, 2000, 2500, 3000, 3500], "title": "Load [N]"}},
  "detail": {"field": "c"}, "order": {"field": "i"}}}
],
"resolve": {"axis": {"x": "independent", "y": "independent"}}
},
{
"width": 317, "height": 316,
"layer": [
{"data": {"name": "markers"}, "transform": [{"filter": "datum.p == 3"}], "mark": {"type": "rule", "color": "#555555", "strokeWidth": 3},
 "encoding": {"x": {"field": "x", "type": "quantitative", "scale": {"domain": [0, 5], "nice": false}, "axis": {"orient": "top", "values": [1, 2, 3, 4], "labels": false, "title": null}},
  "y": {"datum": 0, "type": "quantitative", "scale": {"domain": [0, 3500], "nice": false}, "axis": {"orient": "right", "values": [500, 1000, 1500, 2000, 2500, 3000], "labels": false, "title": null}}, "y2": {"datum": 3500}}},
{"data": {"name": "markers"}, "transform": [{"filter": "datum.p == 3"}], "mark": {"type": "rule", "color": "#cccccc", "strokeWidth": 1}, "encoding": {"x": {"field": "x", "type": "quantitative", "axis": null}}},
{"data": {"name": "curves"}, "transform": [{"filter": "datum.p == 3"}], "mark": {"type": "line", "color": "black", "strokeWidth": 1.2},
 "encoding": {"x": {"field": "x", "type": "quantitative", "axis": {"orient": "bottom", "values": [1, 2, 3, 4], "labels": false, "title": null}},
  "y": {"field": "y", "type": "quantitative", "axis": {"orient": "left", "values": [0, 500, 1000, 1500, 2000, 2500, 3000, 3500], "title": "Load [N]"}},
  "detail": {"field": "c"}, "order": {"field": "i"}}},
{"data": {"name": "notes"}, "transform": [{"filter": "datum.p == 3"}], "mark": {"type": "text", "align": "left", "baseline": "middle", "fontSize": 24, "font": "DejaVu Serif", "fontStyle": "italic"},
 "encoding": {"text": {"field": "t"}, "x": {"datum": 2.68, "type": "quantitative", "axis": null}, "y": {"datum": 3140, "type": "quantitative", "axis": null}}},
{"data": {"name": "dots"}, "transform": [{"filter": "datum.p == 3"}], "mark": {"type": "text", "align": "center", "baseline": "middle", "fontSize": 24, "font": "DejaVu Serif"},
 "encoding": {"text": {"field": "t"}, "x": {"datum": 2.81, "type": "quantitative", "axis": null}, "y": {"datum": 3170, "type": "quantitative", "axis": null}}}
],
"resolve": {"axis": {"x": "independent", "y": "independent"}}
},
{
"width": 317, "height": 316,
"layer": [
{"data": {"name": "markers"}, "transform": [{"filter": "datum.p == 4"}], "mark": {"type": "rule", "color": "#555555", "strokeWidth": 3},
 "encoding": {"x": {"field": "x", "type": "quantitative", "scale": {"domain": [0, 5], "nice": false}, "axis": {"orient": "top", "values": [1, 2, 3, 4], "labels": false, "title": null}},
  "y": {"datum": 0, "type": "quantitative", "scale": {"domain": [0, 3500], "nice": false}, "axis": {"orient": "right", "values": [500, 1000, 1500, 2000, 2500, 3000], "labels": false, "title": null}}, "y2": {"datum": 3500}}},
{"data": {"name": "markers"}, "transform": [{"filter": "datum.p == 4"}], "mark": {"type": "rule", "color": "#cccccc", "strokeWidth": 1}, "encoding": {"x": {"field": "x", "type": "quantitative", "axis": null}}},
{"data": {"name": "curves"}, "transform": [{"filter": "datum.p == 4"}], "mark": {"type": "line", "color": "#ff0000", "strokeWidth": 1.2},
 "encoding": {"x": {"field": "x", "type": "quantitative", "axis": {"orient": "bottom", "values": [1, 2, 3, 4], "labels": false, "title": null}},
  "y": {"field": "y", "type": "quantitative", "axis": {"orient": "left", "values": [0, 500, 1000, 1500, 2000, 2500, 3000, 3500], "title": "Load [N]"}},
  "detail": {"field": "c"}, "order": {"field": "i"}}}
],
"resolve": {"axis": {"x": "independent", "y": "independent"}}
},
{
"width": 317, "height": 316,
"title": {"text": "(a) Control", "orient": "bottom", "anchor": "middle", "frame": "bounds", "font": "Liberation Serif", "fontSize": 25, "fontWeight": "normal", "color": "black", "offset": 24},
"layer": [
{"data": {"name": "markers"}, "transform": [{"filter": "datum.p == 5"}], "mark": {"type": "rule", "color": "#555555", "strokeWidth": 3},
 "encoding": {"x": {"field": "x", "type": "quantitative", "scale": {"domain": [0, 5], "nice": false}, "axis": {"orient": "top", "values": [1, 2, 3, 4], "labels": false, "title": null}},
  "y": {"datum": 0, "type": "quantitative", "scale": {"domain": [0, 3500], "nice": false}, "axis": {"orient": "right", "values": [500, 1000, 1500, 2000, 2500, 3000], "labels": false, "title": null}}, "y2": {"datum": 3500}}},
{"data": {"name": "markers"}, "transform": [{"filter": "datum.p == 5"}], "mark": {"type": "rule", "color": "#cccccc", "strokeWidth": 1}, "encoding": {"x": {"field": "x", "type": "quantitative", "axis": null}}},
{"data": {"name": "curves"}, "transform": [{"filter": "datum.p == 5"}], "mark": {"type": "line", "color": "black", "strokeWidth": 1.2},
 "encoding": {"x": {"field": "x", "type": "quantitative", "axis": {"orient": "bottom", "values": [0, 1, 2, 3, 4, 5], "title": "Displacement δ [mm]"}},
  "y": {"field": "y", "type": "quantitative", "axis": {"orient": "left", "values": [0, 500, 1000, 1500, 2000, 2500, 3000, 3500], "title": "Load [N]"}},
  "detail": {"field": "c"}, "order": {"field": "i"}}},
{"data": {"name": "notes"}, "transform": [{"filter": "datum.p == 5"}], "mark": {"type": "text", "align": "left", "baseline": "middle", "fontSize": 24, "font": "DejaVu Serif", "fontStyle": "italic"},
 "encoding": {"text": {"field": "t"}, "x": {"datum": 2.68, "type": "quantitative", "axis": null}, "y": {"datum": 3160, "type": "quantitative", "axis": null}}},
{"data": {"name": "dots"}, "transform": [{"filter": "datum.p == 5"}], "mark": {"type": "text", "align": "center", "baseline": "middle", "fontSize": 24, "font": "DejaVu Serif"},
 "encoding": {"text": {"field": "t"}, "x": {"datum": 2.81, "type": "quantitative", "axis": null}, "y": {"datum": 3190, "type": "quantitative", "axis": null}}}
],
"resolve": {"axis": {"x": "independent", "y": "independent"}}
},
{
"width": 317, "height": 316,
"title": {"text": "(b) Pinned", "orient": "bottom", "anchor": "middle", "frame": "bounds", "font": "Liberation Serif", "fontSize": 25, "fontWeight": "normal", "color": "black", "offset": 24},
"layer": [
{"data": {"name": "markers"}, "transform": [{"filter": "datum.p == 6"}], "mark": {"type": "rule", "color": "#555555", "strokeWidth": 3},
 "encoding": {"x": {"field": "x", "type": "quantitative", "scale": {"domain": [0, 5], "nice": false}, "axis": {"orient": "top", "values": [1, 2, 3, 4], "labels": false, "title": null}},
  "y": {"datum": 0, "type": "quantitative", "scale": {"domain": [0, 3500], "nice": false}, "axis": {"orient": "right", "values": [500, 1000, 1500, 2000, 2500, 3000], "labels": false, "title": null}}, "y2": {"datum": 3500}}},
{"data": {"name": "markers"}, "transform": [{"filter": "datum.p == 6"}], "mark": {"type": "rule", "color": "#cccccc", "strokeWidth": 1}, "encoding": {"x": {"field": "x", "type": "quantitative", "axis": null}}},
{"data": {"name": "curves"}, "transform": [{"filter": "datum.p == 6"}], "mark": {"type": "line", "color": "#ff0000", "strokeWidth": 1.2},
 "encoding": {"x": {"field": "x", "type": "quantitative", "axis": {"orient": "bottom", "values": [0, 1, 2, 3, 4, 5], "title": "Displacement δ [mm]"}},
  "y": {"field": "y", "type": "quantitative", "axis": {"orient": "left", "values": [0, 500, 1000, 1500, 2000, 2500, 3000, 3500], "title": "Load [N]"}},
  "detail": {"field": "c"}, "order": {"field": "i"}}}
],
"resolve": {"axis": {"x": "independent", "y": "independent"}}
}
],
"config": {
"font": "Liberation Serif",
"view": {"stroke": "black", "strokeWidth": 1.5},
"axis": {"grid": false, "domain": false, "tickColor": "black", "tickSize": -5, "tickWidth": 1,
 "labelFont": "Liberation Serif", "labelFontSize": 21, "labelColor": "black", "labelPadding": 7, "labelFlush": false, "labelOverlap": false, "format": "d",
 "titleFont": "Liberation Serif", "titleFontSize": 21, "titleFontWeight": "bold", "titleColor": "black", "titlePadding": 4},
"axisX": {"labelPadding": 8, "titlePadding": 1},
"text": {"color": "black"}
}
}
